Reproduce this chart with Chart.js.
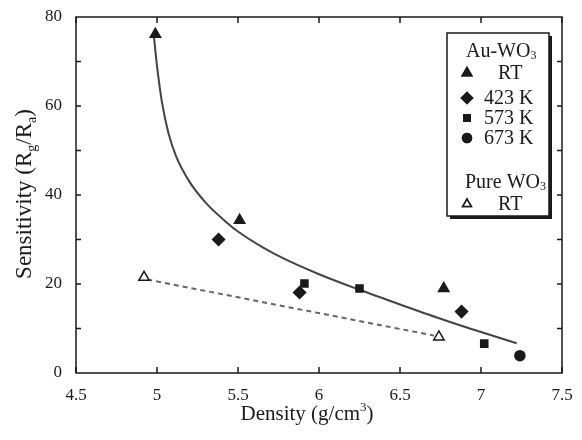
<!DOCTYPE html>
<html>
<head>
<meta charset="utf-8">
<script src="https://cdn.jsdelivr.net/npm/chart.js@4.4.0/dist/chart.umd.min.js"></script>
<style>
  html, body { margin: 0; padding: 0; background: #fff; }
  #wrap { width: 582px; height: 440px; }
</style>
</head>
<body>
<div id="wrap"><canvas id="chart" width="582" height="440"></canvas></div>
<script>
// Au-WO3 samples, density (g/cm3) vs sensitivity
const rtX = [4.99, 5.51, 6.77];
const rtY = [76.1, 34.3, 19.0];
const k423X = [5.38, 5.88, 6.88];
const k423Y = [30.0, 18.1, 13.8];
const k573X = [5.91, 6.25, 7.02];
const k573Y = [20.1, 19.0, 6.6];
const k673X = [7.24];
const k673Y = [3.9];

// Pure WO3 at RT
const pureX = [4.92, 6.74];
const pureY = [21.5, 8.1];

// fitted curves
const fitX = [4.98, 5.0, 5.03, 5.07, 5.12, 5.2, 5.3, 5.4, 5.5, 5.65, 5.8, 6.0, 6.25, 6.5, 6.75, 7.0, 7.22];
const fitY = [76, 69, 61, 54, 48.5, 43, 38.3, 34.8, 31.8, 28.3, 25.4, 22.2, 18.7, 15.4, 12.2, 9.2, 6.7];
const dashX = [4.94, 6.71];
const dashY = [21.0, 8.4];

const xTicks = [4.5, 5, 5.5, 6, 6.5, 7, 7.5];
const yTicks = [0, 20, 40, 60, 80];

const ink = '#1a1a1a';
const serif = "'Liberation Serif', 'DejaVu Serif', serif";

function pts(xs, ys) {
    return xs.map((x, i) => ({ x: x, y: ys[i] }));
}

// frame, inward ticks, axis titles and the boxed legend
const decor = {
    id: 'decor',
    afterDraw(chart) {
        const ctx = chart.ctx;
        const a = chart.chartArea;
        const xs = chart.scales.x;
        const ys = chart.scales.y;
        ctx.save();
        ctx.strokeStyle = ink;
        ctx.lineWidth = 1.5;
        ctx.strokeRect(a.left, a.top, a.right - a.left, a.bottom - a.top);

        ctx.beginPath();
        xTicks.forEach(v => {
            const px = xs.getPixelForValue(v);
            ctx.moveTo(px, a.bottom); ctx.lineTo(px, a.bottom - 6);
            ctx.moveTo(px, a.top); ctx.lineTo(px, a.top + 6);
        });
        for (let v = 10; v < 80; v += 10) {
            const py = ys.getPixelForValue(v);
            ctx.moveTo(a.left, py); ctx.lineTo(a.left + 5, py);
            ctx.moveTo(a.right, py); ctx.lineTo(a.right - 5, py);
        }
        ctx.stroke();

        // x title with superscript
        ctx.fillStyle = ink;
        ctx.textBaseline = 'alphabetic';
        const t1 = 'Density (g/cm';
        const t2 = ')';
        ctx.font = '21px ' + serif;
        const w1 = ctx.measureText(t1).width;
        const w2 = ctx.measureText(t2).width;
        ctx.font = '13px ' + serif;
        const ws = ctx.measureText('3').width;
        let tx = (a.left + a.right) / 2 - 12 - (w1 + ws + w2) / 2;
        const ty = 420;
        ctx.textAlign = 'left';
        ctx.font = '21px ' + serif;
        ctx.fillText(t1, tx, ty);
        ctx.font = '13px ' + serif;
        ctx.fillText('3', tx + w1, ty - 9);
        ctx.font = '21px ' + serif;
        ctx.fillText(t2, tx + w1 + ws, ty);

        // y title, rotated, with subscripts
        ctx.save();
        ctx.translate(31, 194);
        ctx.rotate(-Math.PI / 2);
        const parts = [['Sensitivity (R', 0], ['g', 1], ['/R', 0], ['a', 1], [')', 0]];
        let total = 0;
        parts.forEach(p => {
            ctx.font = (p[1] ? '14px ' : '23px ') + serif;
            total += ctx.measureText(p[0]).width;
        });
        let cx = -total / 2;
        parts.forEach(p => {
            ctx.font = (p[1] ? '14px ' : '23px ') + serif;
            ctx.fillText(p[0], cx, p[1] ? 5 : 0);
            cx += ctx.measureText(p[0]).width;
        });
        ctx.restore();

        // legend box with a shadow on the right and bottom
        const bx = 447, by = 33, bw = 102, bh = 183;
        ctx.fillStyle = '#fff';
        ctx.fillRect(bx, by, bw, bh);
        ctx.fillStyle = ink;
        ctx.fillRect(bx + bw, by + 3, 3, bh);
        ctx.fillRect(bx + 3, by + bh, bw, 3);
        ctx.lineWidth = 1.5;
        ctx.strokeRect(bx, by, bw, bh);

        function sub(text, subTxt, x, y) {
            ctx.font = '20px ' + serif;
            ctx.textAlign = 'left';
            ctx.fillText(text, x, y);
            const w = ctx.measureText(text).width;
            ctx.font = '12px ' + serif;
            ctx.fillText(subTxt, x + w, y + 4);
        }
        ctx.fillStyle = ink;
        ctx.textBaseline = 'middle';
        sub('Au-WO', '3', 466, 52);
        sub('Pure WO', '3', 465, 183);

        const rows = [
            ['triangle', 'RT', 73, true, 5.5],
            ['rectRot', '423 K', 98, true, 5.5],
            ['rect', '573 K', 118, true, 4.5],
            ['circle', '673 K', 138, true, 4.5],
            ['triangle', 'RT', 204, false, 5]
        ];
        rows.forEach(r => {
            Chart.helpers.drawPoint(ctx, {
                pointStyle: r[0], radius: r[4], borderWidth: 1.5, rotation: 0
            }, 467, r[2]);
            ctx.fillStyle = r[3] ? ink : '#fff';
            ctx.strokeStyle = ink;
            ctx.fill();
            ctx.stroke();
            ctx.fillStyle = ink;
            ctx.font = '20px ' + serif;
            ctx.textAlign = 'left';
            ctx.fillText(r[1], r[1] === 'RT' ? 498 : 484, r[2] + 1);
        });
        ctx.restore();
    }
};

function markerSet(label, xs, ys, style, filled, size) {
    return {
        label: label,
        data: pts(xs, ys),
        pointStyle: style,
        pointRadius: size,
        pointBackgroundColor: filled ? ink : '#fff',
        pointBorderColor: ink,
        pointBorderWidth: 1.5,
        showLine: false,
        order: 0
    };
}

new Chart(document.getElementById('chart'), {
    type: 'scatter',
    data: {
        datasets: [
            markerSet('RT', rtX, rtY, 'triangle', true, 6),
            markerSet('423 K', k423X, k423Y, 'rectRot', true, 6),
            markerSet('573 K', k573X, k573Y, 'rect', true, 5),
            markerSet('673 K', k673X, k673Y, 'circle', true, 5),
            markerSet('Pure RT', pureX, pureY, 'triangle', false, 6),
            {
                label: 'fit',
                data: pts(fitX, fitY),
                showLine: true,
                pointRadius: 0,
                borderColor: '#444',
                borderWidth: 2,
                cubicInterpolationMode: 'monotone',
                order: 1
            },
            {
                label: 'fit pure',
                data: pts(dashX, dashY),
                showLine: true,
                pointRadius: 0,
                borderColor: '#666',
                borderWidth: 2,
                borderDash: [5, 4],
                order: 1
            }
        ]
    },
    options: {
        responsive: false,
        animation: false,
        layout: { padding: { top: 17, right: 20, left: 0, bottom: 0 } },
        plugins: { legend: { display: false }, tooltip: { enabled: false } },
        scales: {
            x: {
                type: 'linear',
                min: 4.5, max: 7.5,
                afterBuildTicks: s => { s.ticks = xTicks.map(v => ({ value: v })); },
                afterFit: s => { s.height = 67; },
                grid: { display: false },
                border: { display: false },
                ticks: {
                    color: ink,
                    font: { family: serif, size: 17 },
                    padding: 4,
                    maxRotation: 0,
                    callback: v => String(v)
                }
            },
            y: {
                min: 0, max: 80,
                afterBuildTicks: s => { s.ticks = yTicks.map(v => ({ value: v })); },
                afterFit: s => { s.width = 76; },
                grid: { display: false },
                border: { display: false },
                ticks: {
                    color: ink,
                    font: { family: serif, size: 17 },
                    padding: 6
                }
            }
        }
    },
    plugins: [decor]
});
</script>
</body>
</html>
